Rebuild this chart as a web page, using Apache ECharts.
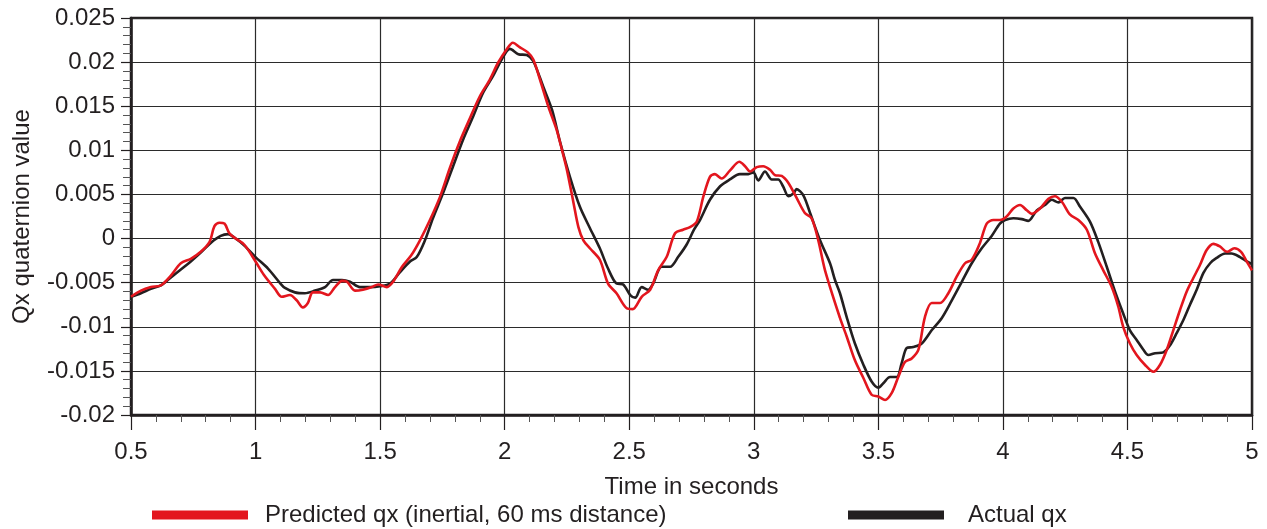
<!DOCTYPE html>
<html>
<head>
<meta charset="utf-8">
<title>Qx quaternion value</title>
<script src="https://cdn.jsdelivr.net/npm/echarts/dist/echarts.min.js"></script>
<style>
  html, body { margin: 0; padding: 0; background: #fff; }
  #chart { width: 1267px; height: 529px; }
</style>
</head>
<body>
<div id="chart"></div>
<script>
  // 时间轴 (秒) 和两条曲线的数值
  var timeActual = [
    0.50, 0.54, 0.58, 0.62, 0.66, 0.70, 0.74, 0.78, 0.82, 0.86, 0.89, 0.92, 0.955, 1.00, 1.05, 1.10,
    1.118, 1.158, 1.198, 1.239, 1.279, 1.311, 1.347, 1.379, 1.419, 1.459, 1.50, 1.54, 1.58, 1.62,
    1.647, 1.68, 1.712, 1.752, 1.793, 1.833, 1.873, 1.913, 1.953, 1.988, 2.021, 2.055, 2.089, 2.115,
    2.155, 2.19, 2.222, 2.262, 2.302, 2.342, 2.382, 2.415, 2.449, 2.475, 2.504, 2.524, 2.55, 2.576,
    2.596, 2.63, 2.664, 2.696, 2.73, 2.76, 2.784, 2.824, 2.864, 2.904, 2.944, 2.978, 2.998, 3.018,
    3.045, 3.072, 3.098, 3.118, 3.139, 3.159, 3.172, 3.199, 3.226, 3.266, 3.306, 3.326, 3.346, 3.373,
    3.406, 3.44, 3.473, 3.50, 3.52, 3.547, 3.574, 3.594, 3.614, 3.64, 3.674, 3.714, 3.755, 3.795,
    3.835, 3.875, 3.915, 3.955, 3.988, 4.009, 4.042, 4.076, 4.102, 4.136, 4.169, 4.196, 4.223, 4.249,
    4.283, 4.31, 4.35, 4.383, 4.417, 4.45, 4.483, 4.51, 4.537, 4.564, 4.584, 4.611, 4.644, 4.671,
    4.698, 4.725, 4.751, 4.778, 4.805, 4.832, 4.858, 4.892, 4.918, 4.952, 4.979, 5.00
  ];
  var actualQx = [
    -0.0066, -0.0062, -0.0057, -0.0053, -0.0044, -0.0035, -0.0026, -0.0016, -0.0005, 0.0003, 0.0005, 0.0000, -0.0008, -0.0021, -0.0034, -0.0051,
    -0.0056, -0.0061, -0.0062, -0.0059, -0.0055, -0.0047, -0.0047, -0.0049, -0.0055, -0.0055, -0.0054, -0.0051, -0.0038, -0.0026,
    -0.0021, -0.0002, 0.0023, 0.0051, 0.0082, 0.0112, 0.0138, 0.0165, 0.0184, 0.0203, 0.0215, 0.0209, 0.0208, 0.0201,
    0.0172, 0.0146, 0.0110, 0.0070, 0.0036, 0.0012, -0.0011, -0.0034, -0.0051, -0.0052, -0.0064, -0.0067, -0.0055, -0.0058,
    -0.0051, -0.0032, -0.0032, -0.0021, -0.0007, 0.0010, 0.0021, 0.0044, 0.0059, 0.0067, 0.0073, 0.0073, 0.0075, 0.0066,
    0.0076, 0.0067, 0.0067, 0.0059, 0.0048, 0.0051, 0.0056, 0.0049, 0.0029, -0.0002, -0.0028, -0.0047, -0.0062, -0.0089,
    -0.0119, -0.0143, -0.0162, -0.0169, -0.0164, -0.0157, -0.0157, -0.0141, -0.0124, -0.0123, -0.0119, -0.0104, -0.0090, -0.0070,
    -0.0049, -0.0028, -0.0011, 0.0003, 0.0017, 0.0021, 0.0023, 0.0022, 0.0020, 0.0032, 0.0038, 0.0044, 0.0041, 0.0046,
    0.0046, 0.0036, 0.0019, -0.0004, -0.0032, -0.0060, -0.0085, -0.0104, -0.0115, -0.0126, -0.0132, -0.0130, -0.0129, -0.0121,
    -0.0107, -0.0092, -0.0075, -0.0058, -0.0039, -0.0028, -0.0022, -0.0017, -0.0017, -0.0021, -0.0026, -0.0029
  ];

  var timePredicted = [
    0.50, 0.54, 0.58, 0.62, 0.66, 0.70, 0.74, 0.78, 0.815, 0.835, 0.855, 0.875, 0.895, 0.92, 0.955, 1.00,
    1.033, 1.078, 1.105, 1.138, 1.165, 1.19, 1.21, 1.23, 1.259, 1.291, 1.319, 1.347, 1.367, 1.399,
    1.431, 1.467, 1.492, 1.527, 1.552, 1.588, 1.625, 1.66, 1.70, 1.74, 1.78, 1.82, 1.86, 1.90,
    1.94, 1.973, 2.007, 2.033, 2.06, 2.093, 2.115, 2.142, 2.175, 2.209, 2.225, 2.249, 2.276, 2.296,
    2.316, 2.342, 2.382, 2.415, 2.449, 2.49, 2.514, 2.55, 2.584, 2.616, 2.65, 2.684, 2.716, 2.744,
    2.771, 2.798, 2.824, 2.844, 2.871, 2.904, 2.942, 2.965, 2.985, 3.012, 3.038, 3.065, 3.085, 3.112,
    3.139, 3.172, 3.205, 3.232, 3.259, 3.286, 3.346, 3.373, 3.406, 3.44, 3.473, 3.50, 3.527, 3.554,
    3.58, 3.607, 3.634, 3.661, 3.687, 3.714, 3.748, 3.781, 3.815, 3.848, 3.875, 3.908, 3.935, 3.962,
    3.988, 4.015, 4.042, 4.069, 4.096, 4.116, 4.149, 4.183, 4.209, 4.236, 4.27, 4.303, 4.337, 4.37,
    4.403, 4.437, 4.463, 4.483, 4.51, 4.537, 4.57, 4.604, 4.631, 4.658, 4.684, 4.711, 4.738, 4.764,
    4.791, 4.818, 4.845, 4.871, 4.90, 4.929, 4.956, 4.979, 5.00
  ];
  var predictedQx = [
    -0.0066, -0.0059, -0.0055, -0.0053, -0.0042, -0.0028, -0.0023, -0.0015, -0.0004, 0.0014, 0.0018, 0.0017, 0.0006, 0.0000, -0.0007, -0.0026,
    -0.0041, -0.0057, -0.0066, -0.0064, -0.0070, -0.0078, -0.0073, -0.0061, -0.0061, -0.0064, -0.0055, -0.0048, -0.0049, -0.0059,
    -0.0058, -0.0055, -0.0052, -0.0055, -0.0049, -0.0032, -0.0019, -0.0002, 0.0021, 0.0047, 0.0080, 0.0110, 0.0136, 0.0161,
    0.0180, 0.0199, 0.0214, 0.0222, 0.0217, 0.0211, 0.0203, 0.0180, 0.0150, 0.0123, 0.0106, 0.0079, 0.0041, 0.0013,
    -0.0002, -0.0011, -0.0024, -0.0051, -0.0062, -0.0079, -0.0080, -0.0066, -0.0058, -0.0036, -0.0021, 0.0006, 0.0010, 0.0013,
    0.0019, 0.0048, 0.0070, 0.0073, 0.0068, 0.0077, 0.0087, 0.0082, 0.0076, 0.0081, 0.0082, 0.0078, 0.0072, 0.0071,
    0.0063, 0.0046, 0.0029, 0.0023, -0.0002, -0.0036, -0.0090, -0.0111, -0.0138, -0.0158, -0.0177, -0.0179, -0.0183, -0.0175,
    -0.0157, -0.0140, -0.0136, -0.0126, -0.0089, -0.0073, -0.0073, -0.0062, -0.0043, -0.0028, -0.0024, -0.0005, 0.0017, 0.0021,
    0.0021, 0.0025, 0.0034, 0.0038, 0.0032, 0.0028, 0.0034, 0.0045, 0.0048, 0.0042, 0.0027, 0.0021, 0.0010, -0.0017,
    -0.0036, -0.0055, -0.0077, -0.0100, -0.0119, -0.0132, -0.0143, -0.0151, -0.0143, -0.0126, -0.0104, -0.0081, -0.0060, -0.0045,
    -0.0030, -0.0013, -0.0006, -0.0009, -0.0015, -0.0011, -0.0015, -0.0026, -0.0036
  ];

  var seriesNames = ['Predicted qx (inertial, 60 ms distance)', 'Actual qx'];

  function pairs(xs, ys) {
    return xs.map(function (x, i) { return [x, ys[i]]; });
  }

  var fontFamily = '"Liberation Sans", Arial, sans-serif';
  var fontSize = 24;
  var ink = '#231f20';
  var red = '#e3161e';

  var chart = echarts.init(document.getElementById('chart'));
  chart.setOption({
    animation: false,
    textStyle: { fontFamily: fontFamily },
    grid: {
      left: 131,
      right: 15,
      top: 18,
      bottom: 114,
      show: true,
      borderColor: ink,
      borderWidth: 2.5
    },
    legend: [{
      data: [seriesNames[0]],
      left: 152,
      top: 503,
      padding: 0,
      icon: 'rect',
      itemWidth: 96,
      itemHeight: 9,
      textStyle: { fontSize: fontSize, color: ink, padding: [0, 0, 0, 12] }
    }, {
      data: [seriesNames[1]],
      left: 848,
      top: 503,
      padding: 0,
      icon: 'rect',
      itemWidth: 96,
      itemHeight: 9,
      textStyle: { fontSize: fontSize, color: ink, padding: [0, 0, 0, 19] }
    }],
    xAxis: {
      type: 'value',
      min: 0.5,
      max: 5,
      interval: 0.5,
      name: 'Time in seconds',
      nameLocation: 'middle',
      nameGap: 60,
      nameTextStyle: { fontSize: fontSize, color: ink },
      axisLine: { onZero: false, lineStyle: { color: ink, width: 2.5 } },
      axisTick: { show: true, inside: false, length: 15, lineStyle: { color: ink, width: 1.2 } },
      minorTick: { show: true, splitNumber: 5, length: 7, lineStyle: { color: '#555', width: 1 } },
      axisLabel: { fontSize: fontSize, color: ink, margin: 25 },
      splitLine: { show: true, lineStyle: { color: '#2b2b2b', width: 1.2 } }
    },
    yAxis: {
      type: 'value',
      min: -0.02,
      max: 0.025,
      interval: 0.005,
      name: 'Qx quaternion value',
      nameLocation: 'middle',
      nameGap: 97,
      nameTextStyle: { fontSize: fontSize, color: ink },
      axisLine: { onZero: false, lineStyle: { color: ink, width: 2.5 } },
      axisTick: { show: true, inside: false, length: 10, lineStyle: { color: ink, width: 1.2 } },
      minorTick: { show: true, splitNumber: 5, length: 8, lineStyle: { color: '#555', width: 1 } },
      axisLabel: {
        fontSize: fontSize,
        color: ink,
        margin: 16,
        formatter: function (v) { return String(parseFloat(v.toFixed(3))); }
      },
      splitLine: { show: true, lineStyle: { color: '#2b2b2b', width: 1.2 } }
    },
    series: [{
      name: seriesNames[1],
      type: 'line',
      showSymbol: false,
      smooth: 0.3,
      data: pairs(timeActual, actualQx),
      color: ink,
      lineStyle: { color: ink, width: 2.6 },
      z: 2
    }, {
      name: seriesNames[0],
      type: 'line',
      showSymbol: false,
      smooth: 0.3,
      data: pairs(timePredicted, predictedQx),
      color: red,
      lineStyle: { color: red, width: 2.6 },
      z: 3
    }]
  });
</script>
</body>
</html>
